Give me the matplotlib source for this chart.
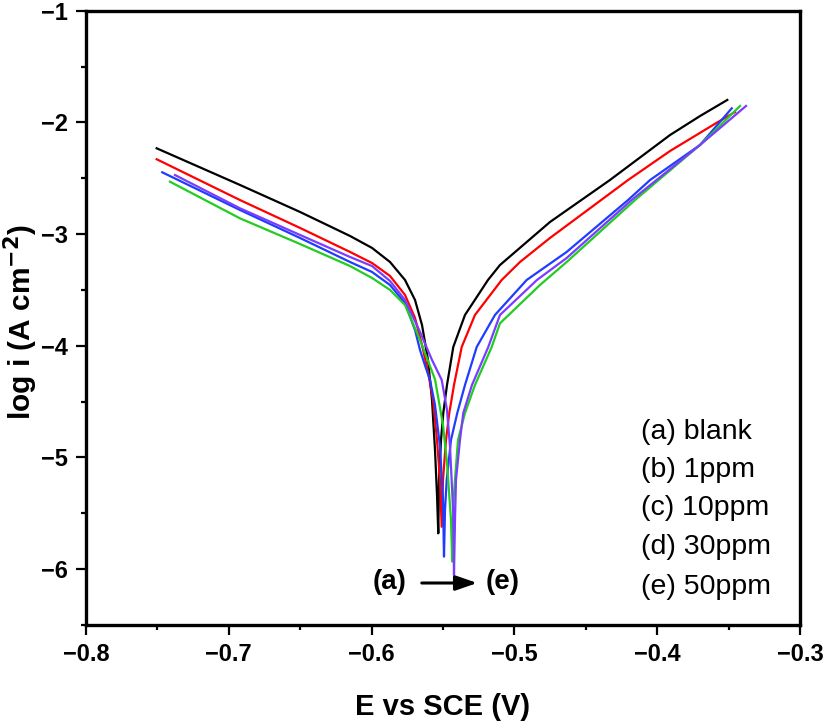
import matplotlib
matplotlib.use("Agg")
import matplotlib.pyplot as plt
from matplotlib.ticker import MultipleLocator

plt.rcParams['font.family'] = ['Liberation Sans', 'DejaVu Sans']

# ---- data (E vs SCE in V, log i in A cm^-2) ----
E_a = [-0.7505, -0.6922, -0.6501, -0.6151, -0.5997, -0.5871, -0.5766, -0.5696, -0.5647, -0.5605, -0.5577, -0.5556, -0.5542, -0.5533,
       -0.5528, -0.5514, -0.5498, -0.5472, -0.5428, -0.5346, -0.5185, -0.5101, -0.4751, -0.4331, -0.3910, -0.3700, -0.3509]
L_a = [-2.232, -2.560, -2.802, -3.017, -3.124, -3.250, -3.411, -3.590, -3.814, -4.127, -4.485, -4.933, -5.336, -5.679,
       -5.201, -4.843, -4.602, -4.351, -4.011, -3.724, -3.411, -3.277, -2.892, -2.516, -2.113, -1.943, -1.799]

E_b = [-0.7505, -0.6922, -0.6501, -0.6151, -0.5997, -0.5871, -0.5766, -0.5696, -0.5647, -0.5605, -0.5570, -0.5542, -0.5521, -0.5509,
       -0.5500, -0.5479, -0.5456, -0.5423, -0.5369, -0.5276, -0.5089, -0.4961, -0.4751, -0.4204, -0.3910, -0.3583, -0.3455]
L_b = [-2.330, -2.695, -2.945, -3.160, -3.259, -3.375, -3.545, -3.751, -3.993, -4.235, -4.485, -4.843, -5.201, -5.620,
       -5.201, -4.843, -4.602, -4.351, -4.011, -3.724, -3.411, -3.250, -3.035, -2.516, -2.256, -2.003, -1.907]

E_c = [-0.7466, -0.6922, -0.6501, -0.6151, -0.5997, -0.5871, -0.5766, -0.5696, -0.5661, -0.5626, -0.5591, -0.5556, -0.5521, -0.5500, -0.5493,
       -0.5486, -0.5474, -0.5444, -0.5400, -0.5346, -0.5264, -0.5136, -0.4914, -0.4634, -0.4204, -0.4050, -0.3700, -0.3478]
L_c = [-2.447, -2.784, -3.035, -3.250, -3.339, -3.456, -3.617, -3.859, -4.038, -4.176, -4.306, -4.530, -4.903, -5.381, -5.888,
       -5.470, -5.201, -4.843, -4.602, -4.351, -4.011, -3.724, -3.411, -3.160, -2.695, -2.516, -2.202, -1.874]

E_d = [-0.7412, -0.6922, -0.6501, -0.6151, -0.5997, -0.5871, -0.5766, -0.5661, -0.5556, -0.5500, -0.5472, -0.5444, -0.5435,
       -0.5426, -0.5416, -0.5395, -0.5346, -0.5276, -0.5159, -0.5101, -0.4821, -0.4634, -0.4155, -0.3700, -0.3420]
L_d = [-2.531, -2.859, -3.089, -3.286, -3.393, -3.500, -3.635, -3.948, -4.300, -4.709, -5.049, -5.560, -5.933,
       -5.381, -5.201, -4.843, -4.602, -4.351, -4.011, -3.799, -3.456, -3.250, -2.695, -2.202, -1.853]

E_e = [-0.7377, -0.6922, -0.6501, -0.6151, -0.5997, -0.5871, -0.5766, -0.5661, -0.5577, -0.5509, -0.5472, -0.5451, -0.5428, -0.5423,
       -0.5416, -0.5409, -0.5381, -0.5358, -0.5297, -0.5183, -0.5101, -0.4842, -0.4634, -0.4179, -0.3700, -0.3378]
L_e = [-2.471, -2.769, -3.008, -3.205, -3.286, -3.420, -3.590, -3.876, -4.127, -4.306, -4.575, -4.903, -5.500, -6.052,
       -5.560, -5.201, -4.843, -4.602, -4.351, -4.011, -3.724, -3.411, -3.214, -2.695, -2.202, -1.853]

labels = ["(a) blank", "(b) 1ppm", "(c) 10ppm", "(d) 30ppm", "(e) 50ppm"]
colors = ["#000000", "#ff0000", "#1f3cff", "#22cc22", "#7a3cff"]
series = [(E_a, L_a), (E_b, L_b), (E_c, L_c), (E_d, L_d), (E_e, L_e)]

W, H = 825, 724
fig = plt.figure(figsize=(W/100, H/100), dpi=100)
ax = fig.add_axes([86/W, 1-625/H, 714/W, (625-10.7)/H])

for (E, L), c in zip(series, colors):
    ax.plot(E, L, color=c, lw=1.6)

ax.set_xlim(-0.8, -0.3)
ax.set_ylim(-6.5, -1)
ax.xaxis.set_major_locator(MultipleLocator(0.1))
ax.xaxis.set_minor_locator(MultipleLocator(0.05))
ax.yaxis.set_major_locator(MultipleLocator(1))
ax.yaxis.set_minor_locator(MultipleLocator(0.5))
ax.tick_params(which='both', direction='out', width=1.6, top=False, right=False)
ax.tick_params(which='major', length=7, labelsize=17, pad=6)
ax.tick_params(which='minor', length=3.5)
for lab in ax.get_xticklabels() + ax.get_yticklabels():
    lab.set_fontweight('bold')
for s in ax.spines.values():
    s.set_linewidth(2.4)

fig.text(443/W, 1-707/H, "E vs SCE (V)", fontsize=21, fontweight='bold',
         ha='center', va='center')
fig.text(21/W, 1-322/H, r"log i (A cm$^{\mathbf{-2}}$)", fontsize=21.5, fontweight='bold',
         ha='center', va='center', rotation=90)

# legend as text block
ys = [0.3147, 0.2523, 0.1905, 0.1275, 0.0623]
for t, y in zip(labels, ys):
    ax.text(0.778, y, t, transform=ax.transAxes, fontsize=20.5, va='center', ha='left')

# arrow annotation (a) -> (e)
ax.annotate("", xy=(-0.5241, -6.124), xytext=(-0.5668, -6.124),
            arrowprops=dict(arrowstyle="-|>,head_length=1.3,head_width=0.45", color='black', lw=2.2))
ax.text(-0.5754, -6.112, "(a)", fontsize=20, fontweight='bold', ha='right', va='center')
ax.text(-0.5199, -6.112, "(e)", fontsize=20, fontweight='bold', ha='left', va='center')

fig.savefig("out.png", dpi=100)
